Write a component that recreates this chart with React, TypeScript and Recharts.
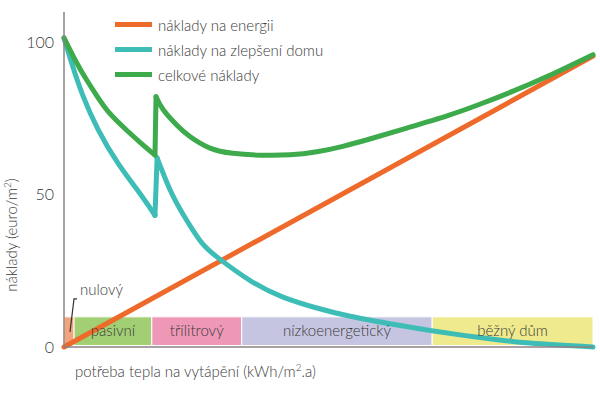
import React from 'react';
import { LineChart, Line, XAxis, YAxis, ReferenceArea } from 'recharts';

// x: heating demand (relative scale 0..100), y: costs (euro/m2)
const energyCost = [
  { x: 0, y: 0 },
  { x: 100, y: 95.5 },
];

// improvement cost: before and after the step at the passive / 3-litre boundary
const improvementBefore = [
  { x: 0, y: 101.5 },
  { x: 1.46, y: 93.2 },
  { x: 3.65, y: 82.2 },
  { x: 6.48, y: 71.3 },
  { x: 10.26, y: 60.2 },
  { x: 14.69, y: 49.6 },
  { x: 17.2, y: 43.2 },
];
const improvementAfter = [
  { x: 17.6, y: 62.1 },
  { x: 20.0, y: 51.8 },
  { x: 22.5, y: 43.6 },
  { x: 25.7, y: 35.0 },
  { x: 28.9, y: 29.6 },
  { x: 35.2, y: 21.8 },
  { x: 41.4, y: 16.4 },
  { x: 47.8, y: 12.8 },
  { x: 54.1, y: 10.1 },
  { x: 63.0, y: 7.2 },
  { x: 69.2, y: 5.4 },
  { x: 78.6, y: 3.1 },
  { x: 88.1, y: 1.3 },
  { x: 100, y: 0 },
];

// total cost: before and after the step
const totalBefore = [
  { x: 0, y: 101.5 },
  { x: 2.46, y: 93.1 },
  { x: 4.35, y: 87.5 },
  { x: 6.24, y: 82.4 },
  { x: 8.7, y: 76.6 },
  { x: 11.9, y: 71.1 },
  { x: 14.7, y: 66.7 },
  { x: 17.2, y: 63.0 },
];
const totalAfter = [
  { x: 17.4, y: 82.2 },
  { x: 18.8, y: 77.8 },
  { x: 21.3, y: 72.9 },
  { x: 23.8, y: 69.1 },
  { x: 27.6, y: 65.3 },
  { x: 31.9, y: 63.6 },
  { x: 37.1, y: 63.0 },
  { x: 42.7, y: 63.1 },
  { x: 47.8, y: 64.1 },
  { x: 52.7, y: 65.9 },
  { x: 57.8, y: 68.3 },
  { x: 64.8, y: 71.9 },
  { x: 72.4, y: 75.9 },
  { x: 78.6, y: 79.7 },
  { x: 84.9, y: 84.0 },
  { x: 91.3, y: 88.8 },
  { x: 100, y: 96.0 },
];

const bands = [
  { name: 'nulový', x1: 0, x2: 1.9, color: '#F4A47C' },
  { name: 'pasivní', x1: 1.9, x2: 16.6, color: '#A2CF73' },
  { name: 'třílitrový', x1: 16.6, x2: 33.6, color: '#EE97B6' },
  { name: 'nízkoenergetický', x1: 33.6, x2: 69.6, color: '#C5C5E1' },
  { name: 'běžný dům', x1: 69.6, x2: 100, color: '#EFEA8D' },
];
const bandBottom = 0.5;
const bandTop = 9.9;

const yTicks = [0, 50, 100];

const seriesInfo = [
  { name: 'náklady na energii', color: '#EE6A2B', parts: [energyCost] },
  { name: 'náklady na zlepšení domu', color: '#3EBDB7', parts: [improvementBefore, improvementAfter] },
  { name: 'celkové náklady', color: '#3DAA4B', parts: [totalBefore, totalAfter] },
];

const FONT = 'Lato, "Open Sans", sans-serif';
const TEXT = '#3a3a3a';
const AXIS = '#8c8282';

const renderNulovy = (props: any) => {
  const vb = props.viewBox || {};
  const x = vb.x;
  const y = vb.y;
  return (
    <g>
      <text x={x + 16} y={y - 22} fontSize={15} fill={TEXT} fontFamily={FONT} fontWeight={300}>
        nulový
      </text>
      <path
        d={`M ${x + 13} ${y - 18} L ${x + 10} ${y - 18} L ${x + 6} ${y + 15}`}
        stroke="#333"
        strokeWidth={1.2}
        fill="none"
      />
    </g>
  );
};

const renderXLabel = (props: any) => {
  const vb = props.viewBox || {};
  return (
    <text x={vb.x + 11} y={vb.y + 30} fontSize={15} fill={TEXT} fontFamily={FONT} fontWeight={300}>
      potřeba tepla na vytápění (kWh/m
      <tspan dy={-6} fontSize={10}>2</tspan>
      <tspan dy={6}>.a)</tspan>
    </text>
  );
};

const renderYLabel = (props: any) => {
  const vb = props.viewBox || {};
  const cx = vb.x + 17;
  const cy = 235;
  return (
    <text
      x={cx}
      y={cy}
      fontSize={15}
      fill={TEXT}
      fontFamily={FONT}
      fontWeight={300}
      textAnchor="middle"
      transform={`rotate(-90 ${cx} ${cy})`}
    >
      náklady (euro/m
      <tspan dy={-6} fontSize={10}>2</tspan>
      <tspan dy={6}>)</tspan>
    </text>
  );
};

export default function App() {
  const lines: React.ReactNode[] = [];
  seriesInfo.forEach((s) => {
    s.parts.forEach((part, pi) => {
      if (pi > 0) {
        const prev = s.parts[pi - 1];
        lines.push(
          <Line
            key={`${s.name}-step-${pi}`}
            data={[prev[prev.length - 1], part[0]]}
            dataKey="y"
            type="linear"
            stroke={s.color}
            strokeWidth={5}
            strokeLinecap="round"
            dot={false}
            activeDot={false}
            isAnimationActive={false}
          />
        );
      }
      lines.push(
        <Line
          key={`${s.name}-${pi}`}
          data={part}
          dataKey="y"
          type="natural"
          stroke={s.color}
          strokeWidth={5}
          strokeLinecap="round"
          dot={false}
          activeDot={false}
          isAnimationActive={false}
          name={s.name}
        />
      );
    });
  });

  return (
    <div style={{ position: 'absolute', left: 0, top: 0, width: 600, height: 397, background: '#fff' }}>
      <LineChart width={600} height={397} margin={{ top: 12, right: 7, bottom: 0, left: 0 }}>
        <XAxis
          type="number"
          dataKey="x"
          domain={[0, 100]}
          ticks={[]}
          tick={false}
          tickLine={false}
          axisLine={{ stroke: AXIS, strokeWidth: 1.5 }}
          height={50}
          label={renderXLabel}
          allowDuplicatedCategory={false}
        />
        <YAxis
          type="number"
          dataKey="y"
          domain={[0, 110]}
          ticks={yTicks}
          tickLine={false}
          axisLine={{ stroke: AXIS, strokeWidth: 1.5 }}
          width={64}
          tick={{ fontSize: 16, fill: TEXT, fontFamily: FONT, fontWeight: 300 }}
          tickMargin={4}
          label={renderYLabel}
        />
        {bands.map((b, i) => (
          <ReferenceArea
            key={b.name}
            x1={b.x1}
            x2={b.x2}
            y1={bandBottom}
            y2={bandTop}
            fill={b.color}
            fillOpacity={1}
            stroke="#fff"
            strokeWidth={1}
            label={
              i === 0
                ? renderNulovy
                : { value: b.name, position: 'center', fontSize: 15, fill: TEXT, fontFamily: FONT, fontWeight: 300 }
            }
          />
        ))}
        {lines}
      </LineChart>
      <div style={{ position: 'absolute', left: 115, top: 12, fontFamily: FONT, fontWeight: 300, fontSize: 15, color: TEXT }}>
        {seriesInfo.map((s) => (
          <div key={s.name} style={{ display: 'flex', alignItems: 'center', height: 25, whiteSpace: 'nowrap' }}>
            <span style={{ display: 'inline-block', width: 37, height: 5, background: s.color, marginRight: 6 }} />
            <span>{s.name}</span>
          </div>
        ))}
      </div>
    </div>
  );
}
